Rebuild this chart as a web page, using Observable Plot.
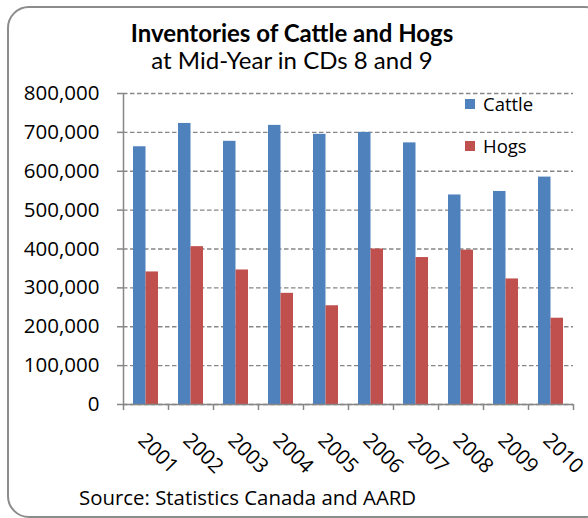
<!DOCTYPE html>
<html>
<head>
<meta charset="utf-8">
<script src="https://cdn.jsdelivr.net/npm/d3@7"></script>
<script src="https://cdn.jsdelivr.net/npm/@observablehq/plot@0.6"></script>
<style>
  html, body { margin: 0; padding: 0; background: #fff; }
  #chart { position: relative; width: 588px; height: 518px; overflow: hidden;
           font-family: "Open Sans", Lato, sans-serif; color: #000; }
  .frame { position: absolute; left: 7px; top: 6px; width: 600px; height: 512px;
           border: 2px solid #8c8c8c; border-radius: 22px; box-sizing: border-box; }
  .title, .subtitle { position: absolute; left: 0; width: 584px; text-align: center;
                      line-height: 24px; white-space: nowrap; }
  .title { top: 21px; font-family: Lato, sans-serif; font-size: 24px; font-weight: 700; }
  .subtitle { top: 48px; font-family: Lato, sans-serif; font-size: 24px; }
  .caption { position: absolute; left: 79px; top: 487px; font-size: 20.4px; line-height: 20.4px; white-space: nowrap; }
  #plot { position: absolute; left: 0; top: 80px; }
  .legend { position: absolute; left: 465px; font-size: 18.5px; line-height: 18.5px; white-space: nowrap; }
  .legend .sw { position: absolute; left: 0; width: 10px; height: 10px; }
  .legend span.lab { position: absolute; left: 18px; top: 0; }
</style>
</head>
<body>
<div id="chart">
  <div class="frame"></div>
  <div class="title">Inventories of Cattle and Hogs</div>
  <div class="subtitle">at Mid-Year in CDs 8 and 9</div>
  <div id="plot"></div>
  <div id="legend"></div>
  <div class="caption">Source: Statistics Canada and AARD</div>
</div>
<script>
// Mid-year inventories (head) by year
const years = ["2001", "2002", "2003", "2004", "2005", "2006", "2007", "2008", "2009", "2010"];
const cattle = [663000, 723000, 677000, 718000, 695000, 700000, 673000, 539000, 548000, 585000];
const hogs = [341000, 406000, 346000, 286000, 254000, 400000, 378000, 397000, 323000, 222000];
const series = ["Cattle", "Hogs"];
const colors = ["#4F81BD", "#C0504D"];
const yTicks = [0, 100000, 200000, 300000, 400000, 500000, 600000, 700000, 800000];

const rows = years.map((year, i) => ({year, cattle: cattle[i], hogs: hogs[i]}));

const W = 588, H = 400, ml = 123, mr = 15, mt = 13, mb = 76;
const step = (W - ml - mr) / years.length;   // width of one year band
const barW = 12.5;                            // width of each bar in a pair
const gray = "#868686";
const labelFont = "'Open Sans', Lato, sans-serif";

const chart = Plot.plot({
  width: W,
  height: H,
  marginLeft: ml,
  marginRight: mr,
  marginTop: mt,
  marginBottom: mb,
  style: {fontFamily: labelFont, fontSize: "20.5px", color: "#000", background: "transparent", overflow: "visible"},
  x: {type: "band", domain: years, padding: 0, axis: null, label: null},
  y: {domain: [0, 800000], axis: null, label: null},
  marks: [
    Plot.gridY(yTicks, {stroke: gray, strokeOpacity: 1, strokeWidth: 1.3, strokeDasharray: "4.5,2.5"}),
    Plot.barY(rows, {x: "year", y: "cattle", fill: colors[0], insetLeft: step / 2 - barW, insetRight: step / 2}),
    Plot.barY(rows, {x: "year", y: "hogs", fill: colors[1], insetLeft: step / 2, insetRight: step / 2 - barW}),
    // axis lines
    Plot.ruleY([0], {stroke: gray, strokeWidth: 1.5}),
    Plot.ruleX([years[0]], {dx: -step / 2, stroke: gray, strokeWidth: 1.5}),
    // y axis ticks and labels
    Plot.axisY(yTicks, {tickSize: 6, tickPadding: 18, tickFormat: d3.format(","), stroke: gray, strokeWidth: 1.5, fontSize: 20.5, label: null}),
    // x axis ticks sit between the year bands
    Plot.axisX(years, {tickSize: 6, dx: -step / 2, stroke: gray, strokeWidth: 1.5, fill: "none", label: null}),
    Plot.axisX([years[years.length - 1]], {tickSize: 6, dx: step / 2, stroke: gray, strokeWidth: 1.5, fill: "none", label: null}),
    // rotated year labels
    Plot.text(years, {x: d => d, frameAnchor: "bottom", rotate: 45, textAnchor: "start", lineAnchor: "bottom", dx: -9, dy: 37, fontSize: 20.5, fill: "#000"})
  ]
});
document.getElementById("plot").appendChild(chart);

// legend
const legend = document.getElementById("legend");
const legendTops = [94.5, 136.5];
series.forEach((name, i) => {
  const item = document.createElement("div");
  item.className = "legend";
  item.style.top = legendTops[i] + "px";
  item.innerHTML = `<div class="sw" style="top:4px;background:${colors[i]}"></div><span class="lab">${name}</span>`;
  legend.appendChild(item);
});
</script>
</body>
</html>
